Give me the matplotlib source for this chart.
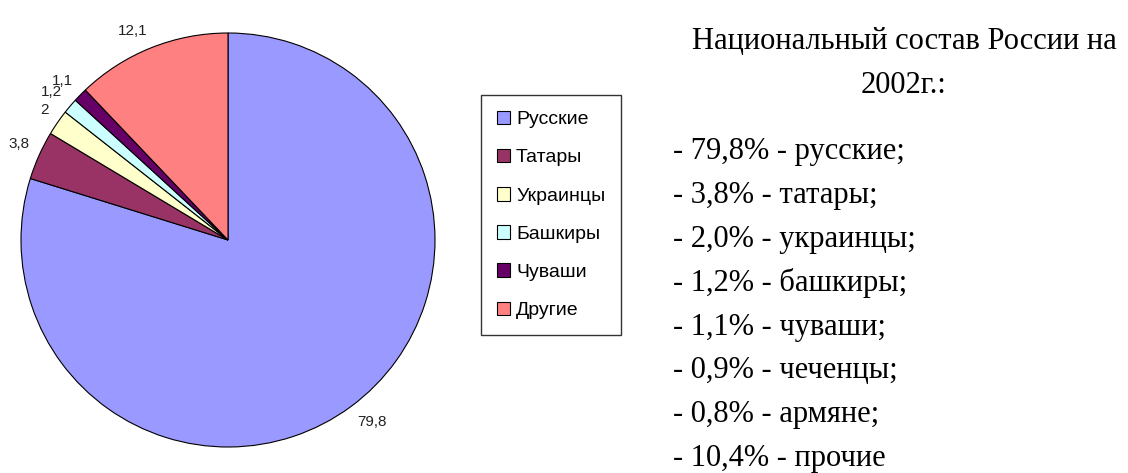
import matplotlib
matplotlib.use('Agg')
import matplotlib.pyplot as plt

# pie data
names = ['Русские', 'Татары', 'Украинцы', 'Башкиры', 'Чуваши', 'Другие']
shares = [79.8, 3.8, 2, 1.2, 1.1, 12.1]
colors = ['#9999FF', '#993366', '#FFFFCC', '#CCFFFF', '#660066', '#FF8080']

# text on the right
title_lines = ['Национальный состав России на', '2002г.:']
list_pct = [79.8, 3.8, 2.0, 1.2, 1.1, 0.9, 0.8, 10.4]
list_names = ['русские', 'татары', 'украинцы', 'башкиры', 'чуваши',
              'чеченцы', 'армяне', 'прочие']

W, H = 1128, 473
fig = plt.figure(figsize=(W / 100, H / 100), dpi=100)

# pie axes: centre (228, 240), radius 207 px
cx, cy, r = 228, 240, 207
ax = fig.add_axes([(cx - r) / W, (H - cy - r) / H, 2 * r / W, 2 * r / H])

labels = [('%g' % v).replace('.', ',') for v in shares]
wedges, texts = ax.pie(shares, labels=labels, colors=colors, startangle=90,
                       counterclock=False, radius=1, labeldistance=1.05,
                       wedgeprops=dict(edgecolor='black', linewidth=0.8),
                       textprops=dict(family='Liberation Sans', fontsize=11,
                                      color='#222222'))
for t in texts:
    x, y = t.get_position()
    t.set_va('bottom' if y > 0 else 'top')
ax.set_xlim(-1, 1)
ax.set_ylim(-1, 1)
ax.set_aspect('equal')
ax.axis('off')

leg = fig.legend(wedges, names, loc='upper left',
                 bbox_to_anchor=(481 / W, 1 - 95 / H), borderaxespad=0,
                 frameon=True, fancybox=False, edgecolor='black',
                 prop=dict(family='Liberation Sans', size=14),
                 handlelength=0.7, handleheight=0.7, handletextpad=0.3,
                 labelspacing=1.06, borderpad=0.8)
leg.get_frame().set_linewidth(1.0)

# title on the right
for i, line in enumerate(title_lines):
    fig.text(904 / W, 1 - (49 + i * 44) / H, line, ha='center', va='baseline',
             family='Liberation Serif', fontsize=22)

# list
for i, (p, n) in enumerate(zip(list_pct, list_names)):
    s = '- ' + ('%.1f' % p).replace('.', ',') + '% - ' + n
    if i < len(list_pct) - 1:
        s += ';'
    fig.text(673 / W, 1 - (159 + i * 43.9) / H, s, ha='left', va='baseline',
             family='Liberation Serif', fontsize=22)

fig.savefig('out.png', dpi=100, facecolor='white')
